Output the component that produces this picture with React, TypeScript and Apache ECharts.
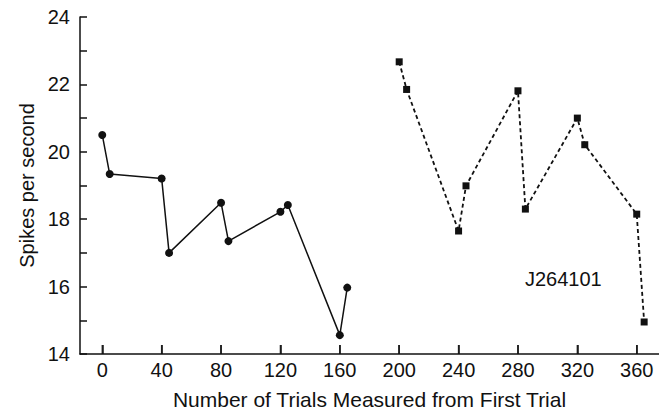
import React, { useEffect, useRef } from "react";
import * as echarts from "echarts";

const firstTrials = [0, 5, 40, 45, 80, 85, 120, 125, 160, 165];
const firstSpikes = [20.5, 19.34, 19.21, 17.0, 18.49, 17.35, 18.22, 18.42, 14.56, 15.97];
const secondTrials = [200, 205, 240, 245, 280, 285, 320, 325, 360, 365];
const secondSpikes = [22.67, 21.85, 17.65, 18.99, 21.81, 18.3, 21.0, 20.21, 18.15, 14.95];
const xTickValues = [0, 40, 80, 120, 160, 200, 240, 280, 320, 360];
const yLabelValues = [14, 16, 18, 20, 22, 24];
const cellLabel = "J264101";

const FONT = "'Liberation Sans', Arial, Helvetica, sans-serif";
const INK = "#111";
const Y_MIN = 14;

export default function App() {
  const ref = useRef<HTMLDivElement>(null);
  useEffect(() => {
    if (!ref.current) return;
    const chart = echarts.init(ref.current, undefined, { renderer: "svg" });
    chart.setOption({
      animation: false,
      backgroundColor: "#fff",
      grid: { left: 80, right: 0, top: 17, bottom: 62 },
      xAxis: {
        type: "value",
        min: -15,
        max: 375,
        name: "Number of Trials Measured from First Trial",
        nameLocation: "middle",
        nameGap: 35,
        nameTextStyle: { fontFamily: FONT, fontSize: 21, color: INK },
        axisLine: { show: true, onZero: false, lineStyle: { color: INK, width: 1.5 } },
        axisTick: {
          show: true,
          inside: true,
          length: 9,
          customValues: xTickValues,
          lineStyle: { color: INK, width: 1.5 },
        },
        axisLabel: {
          customValues: xTickValues,
          fontFamily: FONT,
          fontSize: 20,
          color: INK,
          margin: 6,
        },
        splitLine: { show: false },
      },
      yAxis: {
        type: "value",
        min: Y_MIN,
        max: 24,
        interval: 1,
        name: "Spikes per second",
        nameLocation: "middle",
        nameGap: 42,
        nameTextStyle: { fontFamily: FONT, fontSize: 20, color: INK },
        axisLine: { show: true, onZero: false, lineStyle: { color: INK, width: 1.5 } },
        axisTick: { show: true, inside: true, length: 7, lineStyle: { color: INK, width: 1.5 } },
        axisLabel: {
          fontFamily: FONT,
          fontSize: 20,
          color: INK,
          margin: 10,
          formatter: (v: number) => (yLabelValues.includes(v) ? String(v) : ""),
        },
        splitLine: { show: false },
      },
      series: [
        {
          type: "scatter",
          silent: true,
          data: xTickValues.map((t) => [t, Y_MIN]),
          symbol: "rect",
          symbolSize: [1.5, 9],
          symbolOffset: [0, "-50%"],
          itemStyle: { color: INK },
          z: 1,
        },
        {
          type: "line",
          data: firstTrials.map((t, i) => [t, firstSpikes[i]]),
          symbol: "circle",
          symbolSize: 8,
          itemStyle: { color: INK },
          lineStyle: { color: INK, width: 1.5, type: "solid" },
        },
        {
          type: "line",
          data: secondTrials.map((t, i) => [t, secondSpikes[i]]),
          symbol: "rect",
          symbolSize: 7,
          itemStyle: { color: INK },
          lineStyle: { color: INK, width: 1.8, type: [4, 3] },
        },
      ],
      graphic: [
        {
          type: "text",
          left: 525,
          top: 269,
          style: { text: cellLabel, fontFamily: FONT, fontSize: 20, fill: INK },
        },
      ],
    });
    return () => chart.dispose();
  }, []);
  return <div ref={ref} style={{ width: 659, height: 416, position: "absolute", left: 0, top: 0 }} />;
}
